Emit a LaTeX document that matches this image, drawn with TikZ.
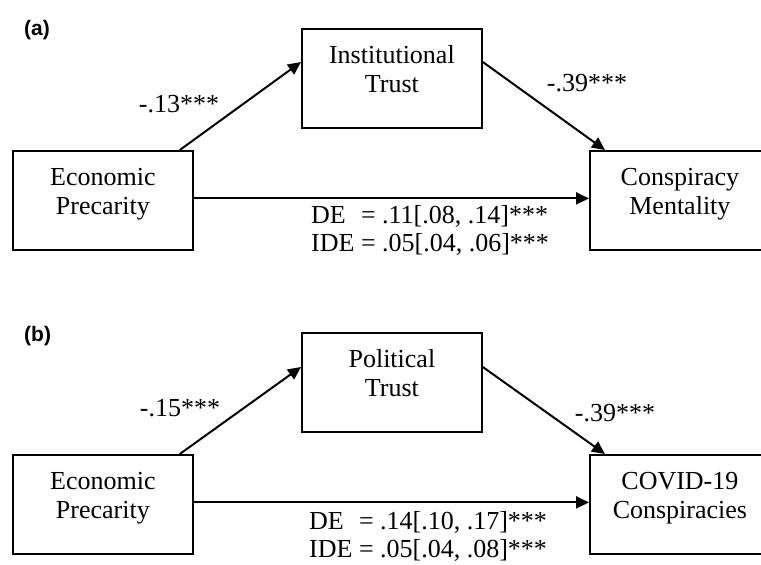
\documentclass[tikz,border=0pt]{standalone}
\usepackage{fontspec}
\setmainfont{Liberation Serif}
\newfontfamily\panelfont{Liberation Sans}
\usetikzlibrary{arrows.meta}
\newcommand\boxtext[2]{\raisebox{0pt}[0pt][0pt]{\begin{tabular}{@{}c@{}}#1\\#2\end{tabular}}}
\begin{document}
\begin{tikzpicture}[x=1pt,y=-1pt,
  box/.style={draw, line width=1.8pt, minimum width=180pt, minimum height=99pt,
    anchor=north west, inner sep=0pt, font=\fontsize{26}{29}\selectfont},
  lbl/.style={font=\fontsize{26}{29}\selectfont, inner sep=0pt},
  conn/.style={line width=2pt, -{Triangle[length=13pt,width=12pt]}},
  panel/.style={font=\panelfont\bfseries\fontsize{21}{24}\selectfont, inner sep=0pt, anchor=base west}]
\useasboundingbox (0,0) rectangle (761,565);
% panel (a)
\node[panel] (pa) at (24,35) {(a)};
\node[box] (ep1) at (12,150) {\boxtext{Economic}{Precarity}};
\node[box] (it) at (301,28) {\boxtext{Institutional}{Trust}};
\node[box] (cm) at (589,150) {\boxtext{Conspiracy}{Mentality}};
\draw[conn] ([xshift=-14pt]ep1.north east) -- ([yshift=-34pt]it.north west);
\draw[conn] ([yshift=-34pt]it.north east) -- ([xshift=16pt]cm.north west);
\draw[conn] ([yshift=2pt]ep1.east) -- ([yshift=2pt]cm.west);
\node[lbl, anchor=base] (a1) at (179,112) {-.13***};
\node[lbl, anchor=base] (a2) at (587,91) {-.39***};
\node[lbl, anchor=base west] (de1) at (311,223) {DE\hphantom{I} = .11[.08, .14]***};
\node[lbl, anchor=base west] (ide1) at (311,251) {IDE = .05[.04, .06]***};
% panel (b)
\node[panel] (pb) at (24,341) {(b)};
\node[box] (ep2) at (12,454) {\boxtext{Economic}{Precarity}};
\node[box] (pt) at (301,332) {\boxtext{Political}{Trust}};
\node[box] (cv) at (589,454) {\boxtext{COVID-19}{Conspiracies}};
\draw[conn] ([xshift=-14pt]ep2.north east) -- ([yshift=-35pt]pt.north west);
\draw[conn] ([yshift=-35pt]pt.north east) -- ([xshift=16pt]cv.north west);
\draw[conn] ([yshift=2pt]ep2.east) -- ([yshift=2pt]cv.west);
\node[lbl, anchor=base] (b1) at (180,416) {-.15***};
\node[lbl, anchor=base] (b2) at (615,421) {-.39***};
\node[lbl, anchor=base west] (de2) at (309,529) {DE\hphantom{I} = .14[.10, .17]***};
\node[lbl, anchor=base west] (ide2) at (309,557) {IDE = .05[.04, .08]***};
\end{tikzpicture}
\end{document}
